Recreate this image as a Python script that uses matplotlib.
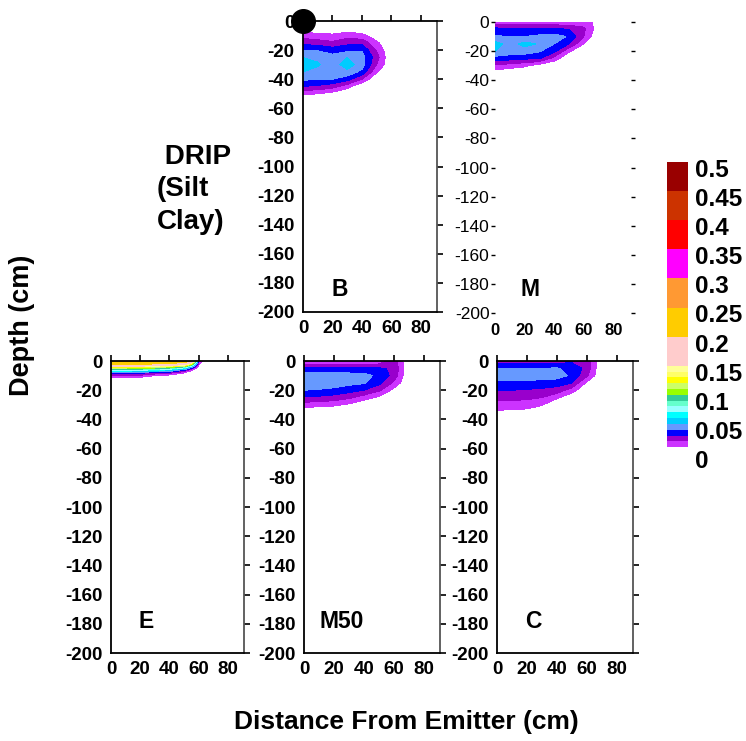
import matplotlib
matplotlib.use('Agg')
import matplotlib.pyplot as plt
import matplotlib.transforms as mtransforms
import numpy as np

plt.rcParams['font.family'] = ['Liberation Sans', 'DejaVu Sans']
plt.rcParams['axes.unicode_minus'] = False

# contour levels and their fill colours (0-0.01 left white)
levels = [0, 0.01, 0.02, 0.03, 0.04, 0.05, 0.06, 0.07, 0.08, 0.09, 0.10,
          0.11, 0.12, 0.13, 0.14, 0.15, 0.2, 0.25, 0.3, 0.35, 0.4, 0.45, 0.5]
colors = ['white', '#CC33FF', '#9900CC', '#0000FF', '#6699FF', '#00CCFF',
          '#00FFFF', '#99FFFF', '#66FFCC', '#33CC99', '#99FF00', '#CCFF66',
          '#FFFF00', '#FFFF66', '#FFFF99', '#FFCCCC', '#FFCC00', '#FF9933',
          '#FF00FF', '#FF0000', '#CC3300', '#990000']
cbar_ticks = [0, 0.05, 0.1, 0.15, 0.2, 0.25, 0.3, 0.35, 0.4, 0.45, 0.5]
cbar_labels = ['0', '0.05', '0.1', '0.15', '0.2', '0.25', '0.3', '0.35',
               '0.4', '0.45', '0.5']

# distance from emitter (cm) and depth (cm) of the read-off grids
dist = [0, 10, 20, 30, 40, 50, 60, 70]
depth_b = [0, 5, 10, 15, 20, 25, 30, 35, 40, 45, 50, 55, 60]
depth = [0, 5, 10, 15, 20, 25, 30, 35, 40]
dist_e = [0, 10, 20, 30, 40, 50, 55, 60, 65]
depth_e = [0, 2, 4, 6, 8, 10, 12, 14]

# water content, one row per distance, values down the depth axis
theta_b = [
    [0, .004, .015, .027, .040, .050, .056, .050, .042, .030, .012, 0, 0],
    [0, .003, .013, .025, .039, .048, .051, .047, .040, .028, .010, 0, 0],
    [0, .002, .012, .022, .035, .044, .045, .044, .040, .024, .006, 0, 0],
    [0, .004, .015, .027, .037, .050, .055, .047, .034, .014, 0, 0, 0],
    [0, .002, .013, .027, .039, .044, .045, .037, .020, 0, 0, 0, 0],
    [0, 0, .004, .012, .019, .024, .020, .011, 0, 0, 0, 0, 0],
    [0, 0, 0, 0, 0, 0, 0, 0, 0, 0, 0, 0, 0],
    [0, 0, 0, 0, 0, 0, 0, 0, 0, 0, 0, 0, 0],
]
theta_m = [
    [.012, .034, .041, .054, .050, .036, .018, .004, 0],
    [.012, .033, .040, .046, .046, .034, .015, .002, 0],
    [.012, .032, .040, .053, .046, .032, .012, 0, 0],
    [.012, .033, .042, .049, .041, .031, .005, 0, 0],
    [.012, .032, .044, .040, .033, .016, 0, 0, 0],
    [.012, .030, .039, .030, .012, 0, 0, 0, 0],
    [.015, .022, .020, .010, 0, 0, 0, 0, 0],
    [.006, .004, 0, 0, 0, 0, 0, 0, 0],
]
theta_e = [
    [.24, .21, .13, .08, .035, .02, .006, 0],
    [.24, .21, .13, .08, .035, .019, .005, 0],
    [.24, .21, .13, .078, .033, .018, .004, 0],
    [.24, .20, .12, .07, .028, .01, 0, 0],
    [.235, .195, .11, .06, .024, .006, 0, 0],
    [.23, .17, .09, .035, .011, 0, 0, 0],
    [.20, .12, .05, .014, 0, 0, 0, 0],
    [.02, .012, .004, 0, 0, 0, 0, 0],
    [0, 0, 0, 0, 0, 0, 0, 0],
]
theta_m50 = [
    [.012, .031, .045, .048, .040, .029, .015, 0, 0],
    [.012, .031, .045, .047, .039, .028, .014, 0, 0],
    [.012, .031, .045, .046, .037, .026, .012, 0, 0],
    [.012, .031, .045, .043, .034, .022, .008, 0, 0],
    [.012, .031, .044, .041, .030, .015, .002, 0, 0],
    [.012, .031, .037, .033, .022, .008, 0, 0, 0],
    [.026, .029, .027, .018, .007, 0, 0, 0, 0],
    [0, 0, 0, 0, 0, 0, 0, 0, 0],
]
theta_c = [
    [.025, .040, .047, .037, .030, .023, .016, .008, 0],
    [.025, .040, .047, .037, .030, .023, .016, .007, 0],
    [.025, .040, .046, .037, .029, .022, .015, .006, 0],
    [.025, .040, .045, .036, .028, .020, .011, 0, 0],
    [.025, .041, .045, .034, .026, .012, 0, 0, 0],
    [.028, .036, .038, .030, .015, .002, 0, 0, 0],
    [.028, .027, .022, .008, 0, 0, 0, 0, 0],
    [0, 0, 0, 0, 0, 0, 0, 0, 0],
]

W, H = 746, 741


def rect(l, r, t, b):
    return [l / W, 1 - b / H, (r - l) / W, (b - t) / H]


def boxed(ax):
    ax.set_xlim(0, 91)
    ax.set_ylim(-200, 0)
    ax.set_xticks([0, 20, 40, 60, 80])
    ax.set_yticks(range(-200, 1, 20))
    ax.tick_params(top=True, right=True, left=False, bottom=False,
                   direction='out', length=4, width=1.2, labelsize=13.5,
                   pad=2)
    for lab in ax.get_xticklabels() + ax.get_yticklabels():
        lab.set_fontweight('bold')
    for sp in ax.spines.values():
        sp.set_linewidth(1.3)
    ax.spines['right'].set_color('#555555')


def draw(ax, x, d, z):
    z = np.array(z).T
    return ax.contourf(x, -np.array(d), z, levels=levels, colors=colors)


fig = plt.figure(figsize=(W / 100, H / 100), dpi=100)

ax_b = fig.add_axes(rect(303, 437, 21, 312))
cs = draw(ax_b, dist, depth_b, theta_b)
boxed(ax_b)
ax_b.plot([0], [0], 'o', color='black', markersize=17, clip_on=False, zorder=5)

# M panel has no frame, plain tick labels
ax_m = fig.add_axes(rect(495, 631, 22, 313))
draw(ax_m, dist, depth, theta_m)
ax_m.set_xlim(0, 92)
ax_m.set_ylim(-200, 0)
ax_m.set_xticks([0, 20, 40, 60, 80])
ax_m.set_yticks(range(-200, 1, 20))
for sp in ax_m.spines.values():
    sp.set_visible(False)
ax_m.tick_params(axis='y', left=True, right=True, length=3, width=1,
                 labelsize=12.5, pad=1)
ax_m.tick_params(axis='x', bottom=False, labelsize=12, pad=4)
for lab in ax_m.get_xticklabels():
    lab.set_fontweight('bold')

ax_e = fig.add_axes(rect(111, 244, 361, 653))
draw(ax_e, dist_e, depth_e, theta_e)
boxed(ax_e)

ax_m50 = fig.add_axes(rect(304, 440, 361, 653))
draw(ax_m50, dist, depth, theta_m50)
boxed(ax_m50)

ax_c = fig.add_axes(rect(497, 633, 361, 653))
draw(ax_c, dist, depth, theta_c)
boxed(ax_c)

cax = fig.add_axes(rect(667, 688, 162, 453))
cb = fig.colorbar(cs, cax=cax, spacing='proportional', ticks=cbar_ticks)
cb.outline.set_visible(False)
cb.ax.set_yticklabels(cbar_labels)
cb.ax.tick_params(length=0, labelsize=17.5, pad=5)
shift = mtransforms.ScaledTranslation(0, -6 / 100, fig.dpi_scale_trans)
for lab in cb.ax.get_yticklabels():
    lab.set_fontweight('bold')
    lab.set_transform(lab.get_transform() + shift)

fig.text(157 / W, 1 - 144 / H, ' DRIP\n(Silt\nClay)', fontsize=20,
         weight='bold', ha='left', va='top', linespacing=1.32)
fig.text(22 / W, 1 - 325 / H, 'Depth (cm)', rotation=90, fontsize=19.5,
         weight='bold', ha='center', va='center')
fig.text(406 / W, 1 - 722 / H, 'Distance From Emitter (cm)', fontsize=19,
         weight='bold', ha='center', va='center')

for name, px, py in [('B', 340, 290), ('M', 530, 289), ('E', 146, 622),
                     ('M50', 342, 622), ('C', 533, 622)]:
    fig.text(px / W, 1 - py / H, name, fontsize=16.5, weight='bold',
             ha='center', va='center')

fig.savefig('out.png', dpi=100)
